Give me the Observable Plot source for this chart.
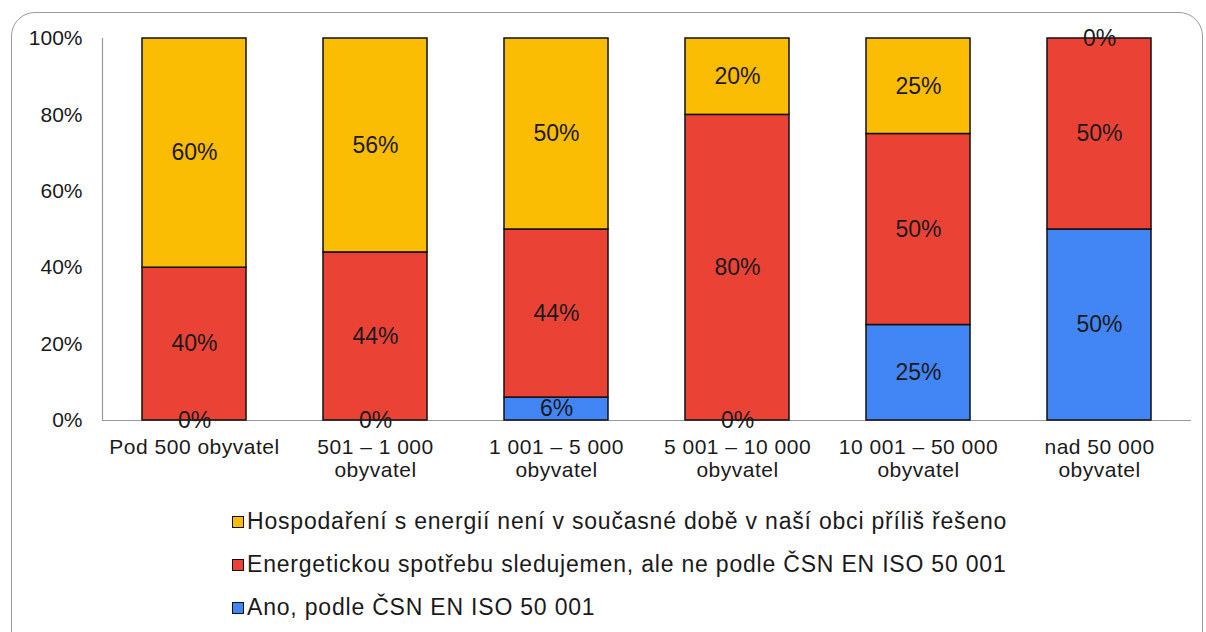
<!DOCTYPE html>
<html><head><meta charset="utf-8">
<script src="https://cdn.jsdelivr.net/npm/d3@7"></script>
<script src="https://cdn.jsdelivr.net/npm/@observablehq/plot@0.6"></script>
<style>
body{margin:0;background:#fff;font-family:"Liberation Sans",Arial,sans-serif;}
#wrap{position:relative;width:1206px;height:632px;overflow:hidden;}
#frame{position:absolute;left:11px;top:12px;width:1192px;height:680px;border:1.5px solid #9a9a9a;border-radius:24px;box-sizing:border-box;}
#chart{position:absolute;left:0;top:0;}
#legend{position:absolute;left:232px;top:500px;}
.item{display:flex;align-items:center;height:43px;font-size:23px;letter-spacing:0.8px;color:#1a1a1a;white-space:nowrap;}
.sw{width:10px;height:10px;border:1.5px solid #111;margin-right:3px;flex:none;}
#chart g[aria-label="x-axis tick label"] text{letter-spacing:0.5px;}
</style></head><body>
<div id="wrap"><div id="frame"></div><div id="chart"></div><div id="legend"></div></div>
<script>
const categories = ["Pod 500 obyvatel","501 – 1 000 obyvatel","1 001 – 5 000 obyvatel","5 001 – 10 000 obyvatel","10 001 – 50 000 obyvatel","nad 50 000 obyvatel"];
const tickLabels = ["Pod 500 obyvatel","501 – 1 000\nobyvatel","1 001 – 5 000\nobyvatel","5 001 – 10 000\nobyvatel","10 001 – 50 000\nobyvatel","nad 50 000\nobyvatel"];
const series = ["Ano, podle ČSN EN ISO 50 001","Energetickou spotřebu sledujemen, ale ne podle ČSN EN ISO 50 001","Hospodaření s energií není v současné době v naší obci příliš řešeno"];
const ano = [0,0,6,0,25,50];
const sledujeme = [40,44,44,80,50,50];
const nereseno = [60,56,50,20,25,0];
const colors = ["#4285F4","#EA4335","#FBBC04"];
const yTicks = [0,20,40,60,80,100];

const valuesBySeries = [ano, sledujeme, nereseno];
const data = [];
categories.forEach((c, i) => {
  series.forEach((s, k) => data.push({cat: c, series: s, value: valuesBySeries[k][i]}));
});

const chart = Plot.plot({
  width: 1206,
  height: 500,
  marginTop: 38,
  marginBottom: 80,
  marginLeft: 102,
  marginRight: 15,
  style: {fontFamily: "'Liberation Sans', Arial, sans-serif", fontSize: "20px", color: "#1a1a1a", background: "transparent", overflow: "visible"},
  x: {domain: categories, paddingInner: 0.427, paddingOuter: 0.2135, label: null},
  y: {domain: [0, 100], label: null},
  color: {domain: series, range: colors},
  marks: [
    Plot.ruleY([0], {stroke: "#999", strokeWidth: 1.2}),
    Plot.frame({anchor: "left", stroke: "#999", strokeWidth: 1.2}),
    Plot.axisY({ticks: yTicks, tickFormat: d => d + "%", tickSize: 0, tickPadding: 20, fontSize: 21, label: null}),
    Plot.axisX({tickFormat: d => tickLabels[categories.indexOf(d)], tickSize: 0, tickPadding: 17, fontSize: 21, lineHeight: 1.1, label: null}),
    Plot.barY(data, Plot.stackY({x: "cat", y: "value", fill: "series", stroke: "#111", strokeWidth: 1.5})),
    Plot.text(data, Plot.stackY({x: "cat", y: "value", text: d => d.value + "%", fontSize: 23, fill: "#1a1a1a"}))
  ]
});
document.getElementById("chart").appendChild(chart);

const legend = document.getElementById("legend");
[2, 1, 0].forEach(k => {
  const it = document.createElement("div");
  it.className = "item";
  const sw = document.createElement("span");
  sw.className = "sw";
  sw.style.background = colors[k];
  const t = document.createElement("span");
  t.textContent = series[k];
  it.appendChild(sw); it.appendChild(t);
  legend.appendChild(it);
});
</script>
</body></html>
